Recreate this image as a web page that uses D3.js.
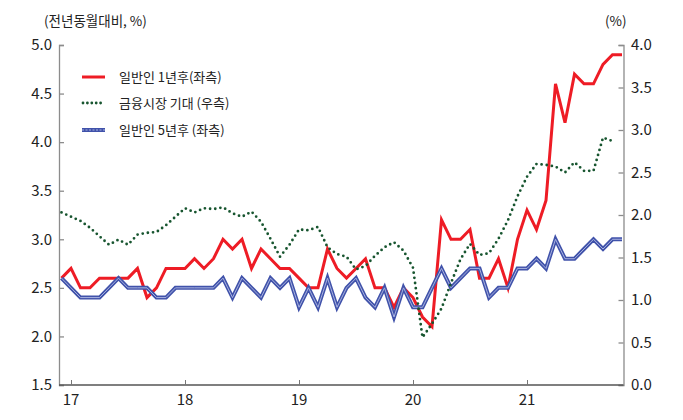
<!DOCTYPE html>
<html><head><meta charset="utf-8">
<script src="https://cdn.jsdelivr.net/npm/d3@7"></script>
<style>
body{margin:0;background:#fff;}
svg text{font-family:"Liberation Sans Narrow","Noto Sans CJK KR","Noto Sans",sans-serif;}
.kr{font-family:"Noto Sans CJK KR","Noto Sans",sans-serif;}
</style>
</head><body>
<svg id="c" width="683" height="420"></svg>
<script>
const months = [
 "17.01","17.02","17.03","17.04","17.05","17.06","17.07","17.08","17.09","17.10","17.11","17.12",
 "18.01","18.02","18.03","18.04","18.05","18.06","18.07","18.08","18.09","18.10","18.11","18.12",
 "19.01","19.02","19.03","19.04","19.05","19.06","19.07","19.08","19.09","19.10","19.11","19.12",
 "20.01","20.02","20.03","20.04","20.05","20.06","20.07","20.08","20.09","20.10","20.11","20.12",
 "21.01","21.02","21.03","21.04","21.05","21.06","21.07","21.08","21.09","21.10","21.11","21.12"];
const xTickMonths = ["17.02","18.02","19.02","20.02","21.02"];
const xTickLabels = ["17","18","19","20","21"];
const leftTicks = [1.5,2.0,2.5,3.0,3.5,4.0,4.5,5.0];
const rightTicks = [0.0,0.5,1.0,1.5,2.0,2.5,3.0,3.5,4.0];

// 일반인 1년후 (좌측)
const general1y = [
 2.6,2.7,2.5,2.5,2.6,2.6,2.6,2.6,2.7,2.4,2.5,2.7,
 2.7,2.7,2.8,2.7,2.8,3.0,2.9,3.0,2.7,2.9,2.8,2.7,
 2.7,2.6,2.5,2.5,2.9,2.7,2.6,2.7,2.8,2.5,2.5,2.3,
 2.5,2.4,2.2,2.1,3.2,3.0,3.0,3.1,2.6,2.6,2.8,2.5,
 3.0,3.3,3.1,3.4,4.6,4.2,4.7,4.6,4.6,4.8,4.9,4.9];
// 일반인 5년후 (좌측)
const general5y = [
 2.6,2.5,2.4,2.4,2.4,2.5,2.6,2.5,2.5,2.5,2.4,2.4,
 2.5,2.5,2.5,2.5,2.5,2.6,2.4,2.6,2.5,2.4,2.6,2.5,
 2.6,2.3,2.5,2.3,2.6,2.3,2.5,2.6,2.4,2.3,2.5,2.2,
 2.5,2.3,2.3,2.5,2.7,2.5,2.6,2.7,2.7,2.4,2.5,2.5,
 2.7,2.7,2.8,2.7,3.0,2.8,2.8,2.9,3.0,2.9,3.0,3.0];
// 금융시장 기대 (우측)
const market = [
 2.03,1.98,1.93,1.85,1.75,1.65,1.71,1.65,1.77,1.79,1.80,1.88,
 1.98,2.08,2.03,2.08,2.07,2.09,2.02,1.98,2.04,1.92,1.72,1.51,
 1.65,1.83,1.82,1.86,1.62,1.54,1.51,1.36,1.40,1.52,1.62,1.68,
 1.58,1.38,0.56,0.72,0.90,1.20,1.48,1.66,1.53,1.55,1.72,1.94,
 2.22,2.45,2.60,2.59,2.57,2.50,2.62,2.52,2.52,2.91,2.87];

const seriesNames = ["일반인 1년후(좌측)","금융시장 기대 (우측)","일반인 5년후 (좌측)"];

const svg = d3.select("#c");
const L = 59, R = 623.5, T = 45, B = 385;
const x = d3.scalePoint().domain(months).range([61.5, 622]);
const yL = d3.scaleLinear().domain([1.5,5.0]).range([B,T]);
const yR = d3.scaleLinear().domain([0,4]).range([B,T]);

// axes
const axL = svg.append("g").attr("transform",`translate(${L},0)`)
  .call(d3.axisRight(yL).tickValues(leftTicks).tickSize(5).tickFormat(""));
const axR = svg.append("g").attr("transform",`translate(${R},0)`)
  .call(d3.axisLeft(yR).tickValues(rightTicks).tickSize(5).tickFormat(""));
[axL,axR].forEach(a=>{a.selectAll("path,line").attr("stroke","#8c8c8c").attr("stroke-width",1.3);});
// left labels
svg.append("g").selectAll("text").data(leftTicks).join("text")
  .attr("x",52).attr("y",d=>yL(d)).attr("dy","0.35em").attr("text-anchor","end")
  .attr("font-size",15).attr("fill","#222").text(d=>d.toFixed(1));
svg.append("g").selectAll("text").data(rightTicks).join("text")
  .attr("x",631).attr("y",d=>yR(d)).attr("dy","0.35em").attr("text-anchor","start")
  .attr("font-size",15).attr("fill","#222").text(d=>d.toFixed(1));

const axB = svg.append("g").attr("transform",`translate(0,${B})`)
  .call(d3.axisTop(x).tickValues(xTickMonths).tickSize(5).tickFormat(""));
axB.select("path").attr("d",`M${L},0H${R}`).attr("stroke","#555").attr("stroke-width",1.3);
axB.selectAll("line").attr("stroke","#777");
svg.append("g").selectAll("text").data(xTickMonths).join("text")
  .attr("x",d=>x(d)).attr("y",400).attr("dy","0.35em").attr("text-anchor","middle")
  .attr("font-size",15).attr("fill","#222").text((d,i)=>xTickLabels[i]);

// titles
svg.append("text").attr("class","kr").attr("x",44).attr("y",21).attr("dy","0.35em")
  .attr("font-size",13.5).attr("fill","#222").text("(전년동월대비, %)");
svg.append("text").attr("class","kr").attr("x",605).attr("y",21).attr("dy","0.35em")
  .attr("font-size",13.5).attr("fill","#222").text("(%)");

// lines
const lineL = d3.line().x((d,i)=>x(months[i])).y(d=>yL(d));
const lineR = d3.line().x((d,i)=>x(months[i])).y(d=>yR(d));
const red = "#ee1c25", blue = "#4052aa", blueLight = "#a7b1df", green = "#17552f";

svg.append("path").datum(general1y).attr("d",lineL).attr("fill","none")
  .attr("stroke",red).attr("stroke-width",3).attr("stroke-linejoin","miter");
svg.append("path").datum(general5y).attr("d",lineL).attr("fill","none")
  .attr("stroke",blue).attr("stroke-width",4);
svg.append("path").datum(general5y).attr("d",lineL).attr("fill","none")
  .attr("stroke",blueLight).attr("stroke-width",1);
svg.append("path").datum(market).attr("d",lineR).attr("fill","none")
  .attr("stroke",green).attr("stroke-width",2.8).attr("stroke-linecap","round")
  .attr("stroke-dasharray","0 5.2");

// legend
const lg = svg.append("g");
const ly = [77, 103, 130];
lg.append("line").attr("x1",82).attr("x2",105).attr("y1",ly[0]).attr("y2",ly[0])
  .attr("stroke",red).attr("stroke-width",3);
lg.append("line").attr("x1",83).attr("x2",105).attr("y1",ly[1]).attr("y2",ly[1])
  .attr("stroke",green).attr("stroke-width",2.8).attr("stroke-linecap","round").attr("stroke-dasharray","0 4.4");
lg.append("line").attr("x1",82).attr("x2",105).attr("y1",ly[2]).attr("y2",ly[2])
  .attr("stroke",blue).attr("stroke-width",4);
lg.append("line").attr("x1",82).attr("x2",105).attr("y1",ly[2]).attr("y2",ly[2])
  .attr("stroke",blueLight).attr("stroke-width",1).attr("stroke-dasharray","2 1.5");
lg.selectAll("text.lab").data(seriesNames).join("text").attr("class","kr lab")
  .attr("x",119).attr("y",(d,i)=>ly[i]).attr("dy","0.35em")
  .attr("font-size",13).attr("fill","#222").text(d=>d);
</script>
</body></html>
